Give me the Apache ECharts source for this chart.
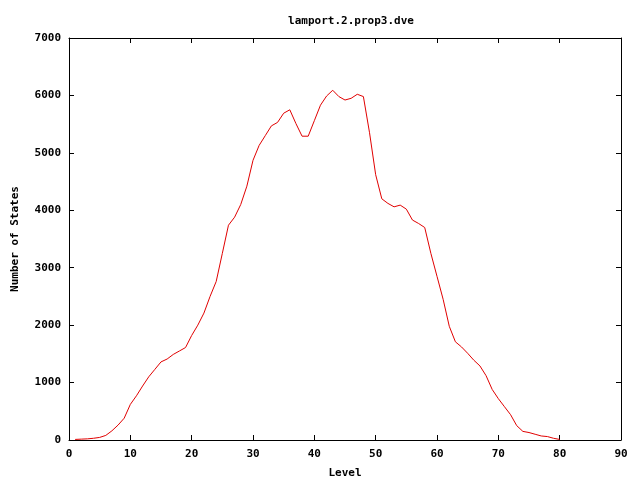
<!DOCTYPE html>
<html><head><meta charset="utf-8">
<script src="https://cdn.jsdelivr.net/npm/echarts@6/dist/echarts.min.js"></script>
<style>html,body{margin:0;padding:0;background:#fff}#c{width:640px;height:480px}</style>
</head><body><div id="c"></div>
<script>
const levels = [];
for (let i = 1; i <= 80; i++) levels.push(i);
const states = [10,15,20,30,45,80,160,260,380,620,
  770,940,1100,1230,1360,1410,1490,1550,1610,1820,
  2000,2210,2500,2760,3250,3740,3880,4100,4420,4870,
  5130,5300,5470,5530,5690,5750,5510,5290,5290,5560,
  5830,5990,6090,5980,5920,5950,6020,5980,5350,4620,
  4200,4120,4060,4090,4020,3830,3770,3700,3250,2850,
  2450,1980,1710,1620,1510,1390,1290,1120,880,720,
  580,440,250,150,130,100,70,60,30,10];
const xTicks = [0,10,20,30,40,50,60,70,80,90];
const yTicks = [0,1000,2000,3000,4000,5000,6000,7000];

const font = {fontFamily:'DejaVu Sans Mono', fontWeight:'bold', fontSize:11, color:'#000'};
const data = levels.map((l,i)=>[l, states[i]]);
const chart = echarts.init(document.getElementById('c'), null, {renderer:'canvas'});
const axisLine = {show:true, onZero:false, lineStyle:{color:'#000', width:1}};
const tick = {show:true, inside:true, length:5, lineStyle:{color:'#000'}};
const fmt = v => String(v);
chart.setOption({
  animation:false,
  backgroundColor:'#fff',
  title:{text:'lamport.2.prop3.dve', left:346, top:11, textAlign:'center',
    textStyle:Object.assign({}, font)},
  grid:{left:69, right:19, top:38, bottom:40, outerBoundsMode:'none', containLabel:false},
  xAxis:[
    {type:'value', min:xTicks[0], max:xTicks[xTicks.length-1], interval:10, position:'bottom',
     name:'Level', nameLocation:'middle', nameGap:28, nameTextStyle:Object.assign({}, font),
     axisLine, axisTick:tick, splitLine:{show:false},
     axisLabel:Object.assign({margin:9, formatter:fmt}, font)},
    {type:'value', min:xTicks[0], max:xTicks[xTicks.length-1], interval:10, position:'top',
     axisLine, axisTick:tick, splitLine:{show:false}, axisLabel:{show:false}}
  ],
  yAxis:[
    {type:'value', min:yTicks[0], max:yTicks[yTicks.length-1], interval:1000, position:'left',
     name:'Number of States', nameLocation:'middle', nameGap:48, nameRotate:90,
     nameTextStyle:Object.assign({}, font),
     axisLine, axisTick:tick, splitLine:{show:false},
     axisLabel:Object.assign({margin:8, formatter:fmt}, font)},
    {type:'value', min:yTicks[0], max:yTicks[yTicks.length-1], interval:1000, position:'right',
     axisLine, axisTick:tick, splitLine:{show:false}, axisLabel:{show:false}}
  ],
  series:[{type:'line', data, showSymbol:false, symbol:'none',
    lineStyle:{color:'#e00000', width:1}, itemStyle:{color:'#e00000'}}]
});
</script></body></html>
